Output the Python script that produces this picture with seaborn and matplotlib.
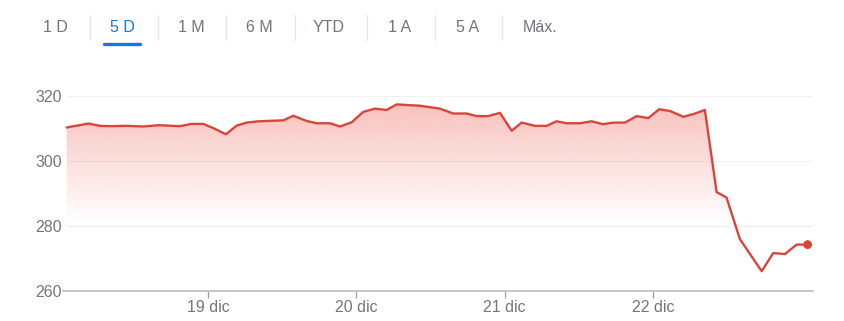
import numpy as np
import pandas as pd
import seaborn as sns
import matplotlib
matplotlib.use("Agg")
import matplotlib.pyplot as plt
from matplotlib.lines import Line2D

# ---- data (x = fractional day of December, y = price) ----
dias = [18.047, 18.193, 18.272, 18.339, 18.452, 18.564, 18.665, 18.811, 18.890, 18.968,
        19.036, 19.121, 19.194, 19.261, 19.339, 19.508, 19.575, 19.666, 19.733, 19.823,
        19.890, 19.969, 20.047, 20.126, 20.205, 20.272, 20.430, 20.564, 20.654, 20.744,
        20.812, 20.890, 20.969, 21.048, 21.115, 21.205, 21.284, 21.351, 21.418, 21.508,
        21.587, 21.665, 21.733, 21.812, 21.891, 21.969, 22.043, 22.115, 22.205, 22.272,
        22.351, 22.430, 22.497, 22.587, 22.734, 22.812, 22.891, 22.970, 23.044]
precios = [310.3, 311.5, 310.8, 310.7, 310.8, 310.6, 311.0, 310.7, 311.4, 311.4,
           310.1, 308.2, 310.9, 311.8, 312.2, 312.5, 313.9, 312.3, 311.6, 311.6,
           310.6, 311.9, 315.1, 316.1, 315.7, 317.4, 317.0, 316.1, 314.6, 314.6,
           313.8, 313.8, 314.8, 309.3, 311.8, 310.8, 310.8, 312.2, 311.6, 311.6,
           312.2, 311.3, 311.8, 311.8, 313.8, 313.2, 315.9, 315.4, 313.6, 314.4,
           315.7, 290.4, 288.7, 275.9, 266.0, 271.6, 271.3, 274.2, 274.2]
tick_dias = [19, 20, 21, 22]
tick_labels = ["19 dic", "20 dic", "21 dic", "22 dic"]
y_ticks = [260, 280, 300, 320]
tabs = ["1 D", "5 D", "1 M", "6 M", "YTD", "1 A", "5 A", "Máx."]
tab_activa = "5 D"

df = pd.DataFrame({"dia": dias, "precio": precios})

sns.set_theme(style="white")
plt.rcParams["font.family"] = ["Liberation Sans", "DejaVu Sans"]

W, H = 845, 321
fig = plt.figure(figsize=(W / 100, H / 100), dpi=100)
ax = fig.add_axes([63 / W, (H - 290.7) / H, (813 - 63) / W, (290.7 - 96) / H])

XMIN, XMAX = 18.022, 23.08
YMIN, YMAX = 260, 320

# gradient fill under the line
poly = ax.fill_between(df["dia"], df["precio"], YMIN, facecolor="none", edgecolor="none")
n = 300
vals = np.linspace(YMAX, YMIN, n)
alpha = np.clip((vals - 281) / (318 - 281), 0, 1) * 0.33
grad = np.zeros((n, 1, 4))
grad[..., 0] = 234 / 255
grad[..., 1] = 67 / 255
grad[..., 2] = 53 / 255
grad[:, 0, 3] = alpha
im = ax.imshow(grad, extent=[XMIN, XMAX, YMIN, YMAX], aspect="auto",
               interpolation="bilinear", zorder=1)
im.set_clip_path(poly.get_paths()[0], transform=ax.transData)

sns.lineplot(data=df, x="dia", y="precio", ax=ax, color="#d9453a", linewidth=1.7, zorder=3)
ax.scatter([df["dia"].iloc[-1]], [df["precio"].iloc[-1]], s=40, color="#d9453a",
           zorder=4, clip_on=False, edgecolor="none")

ax.set_xlim(XMIN, XMAX)
ax.set_ylim(YMIN, YMAX)
ax.set_xlabel("")
ax.set_ylabel("")

for yv in y_ticks[1:]:
    ax.axhline(yv, color="#f0f0f0", linewidth=0.8, zorder=0, xmin=0.005)

for s in ["top", "right", "left"]:
    ax.spines[s].set_visible(False)
ax.spines["bottom"].set_color("#bdbdbd")
ax.spines["bottom"].set_linewidth(1.2)

ax.set_xticks(tick_dias)
ax.set_xticklabels(tick_labels)
ax.set_yticks(y_ticks)
ax.set_yticklabels([str(v) for v in y_ticks])
ax.tick_params(axis="x", direction="out", length=5, width=0.9, color="#9e9e9e",
               labelsize=11.5, labelcolor="#757575", pad=2, bottom=True)
ax.tick_params(axis="y", length=0, labelsize=11.5, labelcolor="#757575", pad=1)

# tab bar
tab_x = [55, 122, 191, 259, 329, 400, 468, 540]
ty = 1 - 28 / H
for lab, xc in zip(tabs, tab_x):
    col = "#1a73e8" if lab == tab_activa else "#70757a"
    fig.text(xc / W, ty, lab, ha="center", va="center", fontsize=11.5, color=col)
for sx in [90, 158, 226, 295, 367, 435, 502]:
    fig.add_artist(Line2D([sx / W, sx / W], [1 - 15 / H, 1 - 40 / H],
                          color="#e6e6e6", linewidth=0.9, transform=fig.transFigure))
fig.add_artist(Line2D([104 / W, 140 / W], [1 - 43.5 / H, 1 - 43.5 / H], color="#1a73e8",
                      linewidth=2.4, solid_capstyle="round", transform=fig.transFigure))

fig.savefig("out.png", dpi=100, facecolor="white")
